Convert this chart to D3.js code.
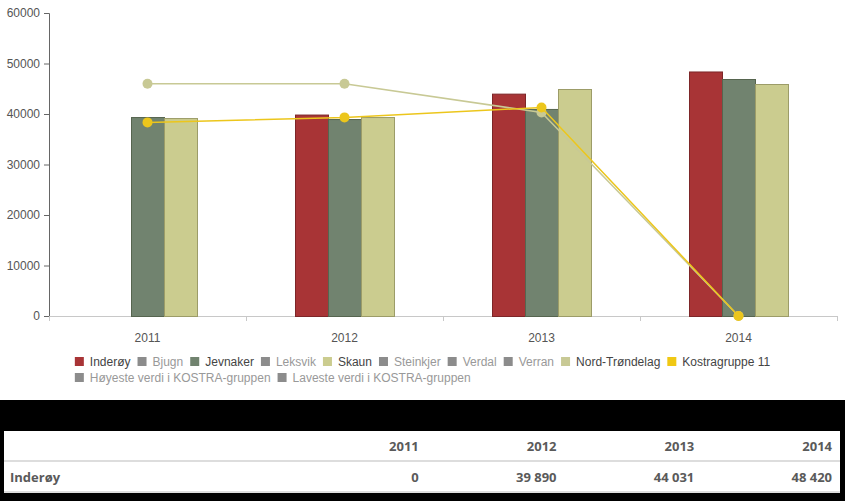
<!DOCTYPE html>
<meta charset="utf-8">
<script src="https://d3js.org/d3.v7.min.js"></script>
<style>
  body { margin: 0; background: #fff; font-family: "Liberation Sans", Arial, sans-serif; }
  #chart { position: absolute; left: 0; top: 0; }
  .band { position: absolute; left: 0; top: 400px; width: 845px; height: 101px; background: #000; }
  table { position: absolute; left: 4px; top: 431px; width: 836px; border-collapse: collapse; background: #fff;
          table-layout: fixed;
          font-family: "Open Sans", sans-serif; font-weight: bold; font-size: 13px; color: #5a5a5a; }
  td { height: 29px; padding: 0 8px 0 6px; text-align: right; border-bottom: 2px solid #ddd; }
  td.name { text-align: left; width: 271px; }
</style>

<div class="band"></div>
<div id="chart"></div>
<table id="tbl"></table>

<script>
// years on x axis
var years = ["2011", "2012", "2013", "2014"];

// bar series
var inderoy = [0, 39890, 44031, 48420];
var jevnaker = [39400, 39000, 41000, 46930];
var nordTrondelagBars = [39200, 39400, 44950, 45940];

// line series
var nordTrondelagLine = [46000, 46000, 40300, 0];
var kostra11 = [38340, 39330, 41300, 0];

var yTicks = [0, 10000, 20000, 30000, 40000, 50000, 60000];

var legendItems = [
  {name: "Inderøy", color: "#a83436", on: true},
  {name: "Bjugn", color: "#8c8c8c", on: false},
  {name: "Jevnaker", color: "#71836f", on: true},
  {name: "Leksvik", color: "#8c8c8c", on: false},
  {name: "Skaun", color: "#cbcc8f", on: true},
  {name: "Steinkjer", color: "#8c8c8c", on: false},
  {name: "Verdal", color: "#8c8c8c", on: false},
  {name: "Verran", color: "#8c8c8c", on: false},
  {name: "Nord-Trøndelag", color: "#c8c995", on: true},
  {name: "Kostragruppe 11", color: "#f0c814", on: true},
  {name: "Høyeste verdi i KOSTRA-gruppen", color: "#8c8c8c", on: false},
  {name: "Laveste verdi i KOSTRA-gruppen", color: "#8c8c8c", on: false}
];

var W = 845, H = 400;
var margin = {top: 13, left: 49, right: 8, bottom: 84};
var width = W - margin.left - margin.right,
    height = 316 - margin.top;

var svg = d3.select("#chart").append("svg")
    .attr("width", W).attr("height", H)
    .style("font-family", "'Liberation Sans', Arial, sans-serif");

var g = svg.append("g").attr("transform", "translate(" + margin.left + "," + margin.top + ")");

var x = d3.scaleBand().domain(years).range([0, width]);
var y = d3.scaleLinear().domain([0, 60000]).range([height, 0]);

// y axis
var yAxis = g.append("g").call(d3.axisLeft(y).tickValues(yTicks).tickSize(5).tickPadding(4).tickFormat(d3.format("d")));
yAxis.select(".domain").attr("stroke", "#666");
yAxis.selectAll(".tick line").attr("stroke", "#666");
yAxis.selectAll("text").attr("fill", "#555").style("font-size", "12px");

// x axis line + ticks at band edges
g.append("line").attr("x1", 0).attr("x2", width).attr("y1", height + 0.5).attr("y2", height + 0.5)
  .attr("stroke", "#c8c8c8");
g.selectAll(".xtick").data(years.concat(["end"])).enter().append("line")
  .attr("x1", function(d, i) { return i * x.step() + 0.5; })
  .attr("x2", function(d, i) { return i * x.step() + 0.5; })
  .attr("y1", height).attr("y2", height + 5)
  .attr("stroke", "#c8c8c8");
g.selectAll(".xlab").data(years).enter().append("text")
  .attr("x", function(d) { return x(d) + x.bandwidth() / 2; })
  .attr("y", height + 26)
  .attr("text-anchor", "middle")
  .attr("fill", "#555").style("font-size", "12px")
  .text(function(d) { return d; });

// bars
var barSeries = [
  {values: inderoy, fill: "#a83436", stroke: "#7d2628"},
  {values: jevnaker, fill: "#71836f", stroke: "#56654f"},
  {values: nordTrondelagBars, fill: "#cbcc8f", stroke: "#9c9c68"}
];
var barW = 33;
barSeries.forEach(function(s, si) {
  g.selectAll(".bar" + si).data(s.values).enter().append("rect")
    .attr("x", function(d, i) { return x(years[i]) + x.bandwidth() / 2 - 1.5 * barW + si * barW + 0.5; })
    .attr("y", function(d) { return y(d) + 0.5; })
    .attr("width", barW)
    .attr("height", function(d) { return Math.max(0, height - y(d)); })
    .attr("fill", s.fill)
    .attr("stroke", d => d > 0 ? s.stroke : "none");
});

// lines
var lineSeries = [
  {values: nordTrondelagLine, color: "#c8c995"},
  {values: kostra11, color: "#ecc61c"}
];
var line = d3.line()
  .x(function(d, i) { return x(years[i]) + x.bandwidth() / 2; })
  .y(function(d) { return y(d); });
lineSeries.forEach(function(s) {
  g.append("path").datum(s.values)
    .attr("fill", "none").attr("stroke", s.color).attr("stroke-width", 1.5)
    .attr("d", line);
  g.selectAll(null).data(s.values).enter().append("circle")
    .attr("cx", function(d, i) { return x(years[i]) + x.bandwidth() / 2; })
    .attr("cy", function(d) { return y(d); })
    .attr("r", 5)
    .attr("fill", s.color);
});

// legend, centred, wrapping
var legend = svg.append("g");
var maxRow = 700, rows = [[]], rowW = [0];
var tmp = svg.append("text").style("font-size", "12px");
legendItems.forEach(function(it) {
  tmp.text(it.name);
  it.w = 15 + tmp.node().getComputedTextLength() + 7;
  var r = rows.length - 1;
  if (rowW[r] + it.w > maxRow + 7) { rows.push([]); rowW.push(0); r++; }
  it.off = rowW[r];
  rows[r].push(it);
  rowW[r] += it.w;
});
tmp.remove();
var startX = (W - (rowW[0] - 7)) / 2;
rows.forEach(function(row, ri) {
  var yy = 362 + ri * 16;
  row.forEach(function(it) {
    legend.append("rect").attr("x", startX + it.off).attr("y", yy - 5).attr("width", 9).attr("height", 9)
      .attr("fill", it.color);
    legend.append("text").attr("x", startX + it.off + 15).attr("y", yy + 4)
      .style("font-size", "12px").attr("fill", it.on ? "#444" : "#999")
      .text(it.name);
  });
});

// table
var tbl = d3.select("#tbl");
var head = tbl.append("tr");
head.append("td").attr("class", "name");
years.forEach(function(yr) { head.append("td").text(yr); });
var row = tbl.append("tr");
row.append("td").attr("class", "name").text("Inderøy");
inderoy.forEach(function(v) { row.append("td").text(d3.format(",")(v).replace(/,/g, " ")); });
</script>
